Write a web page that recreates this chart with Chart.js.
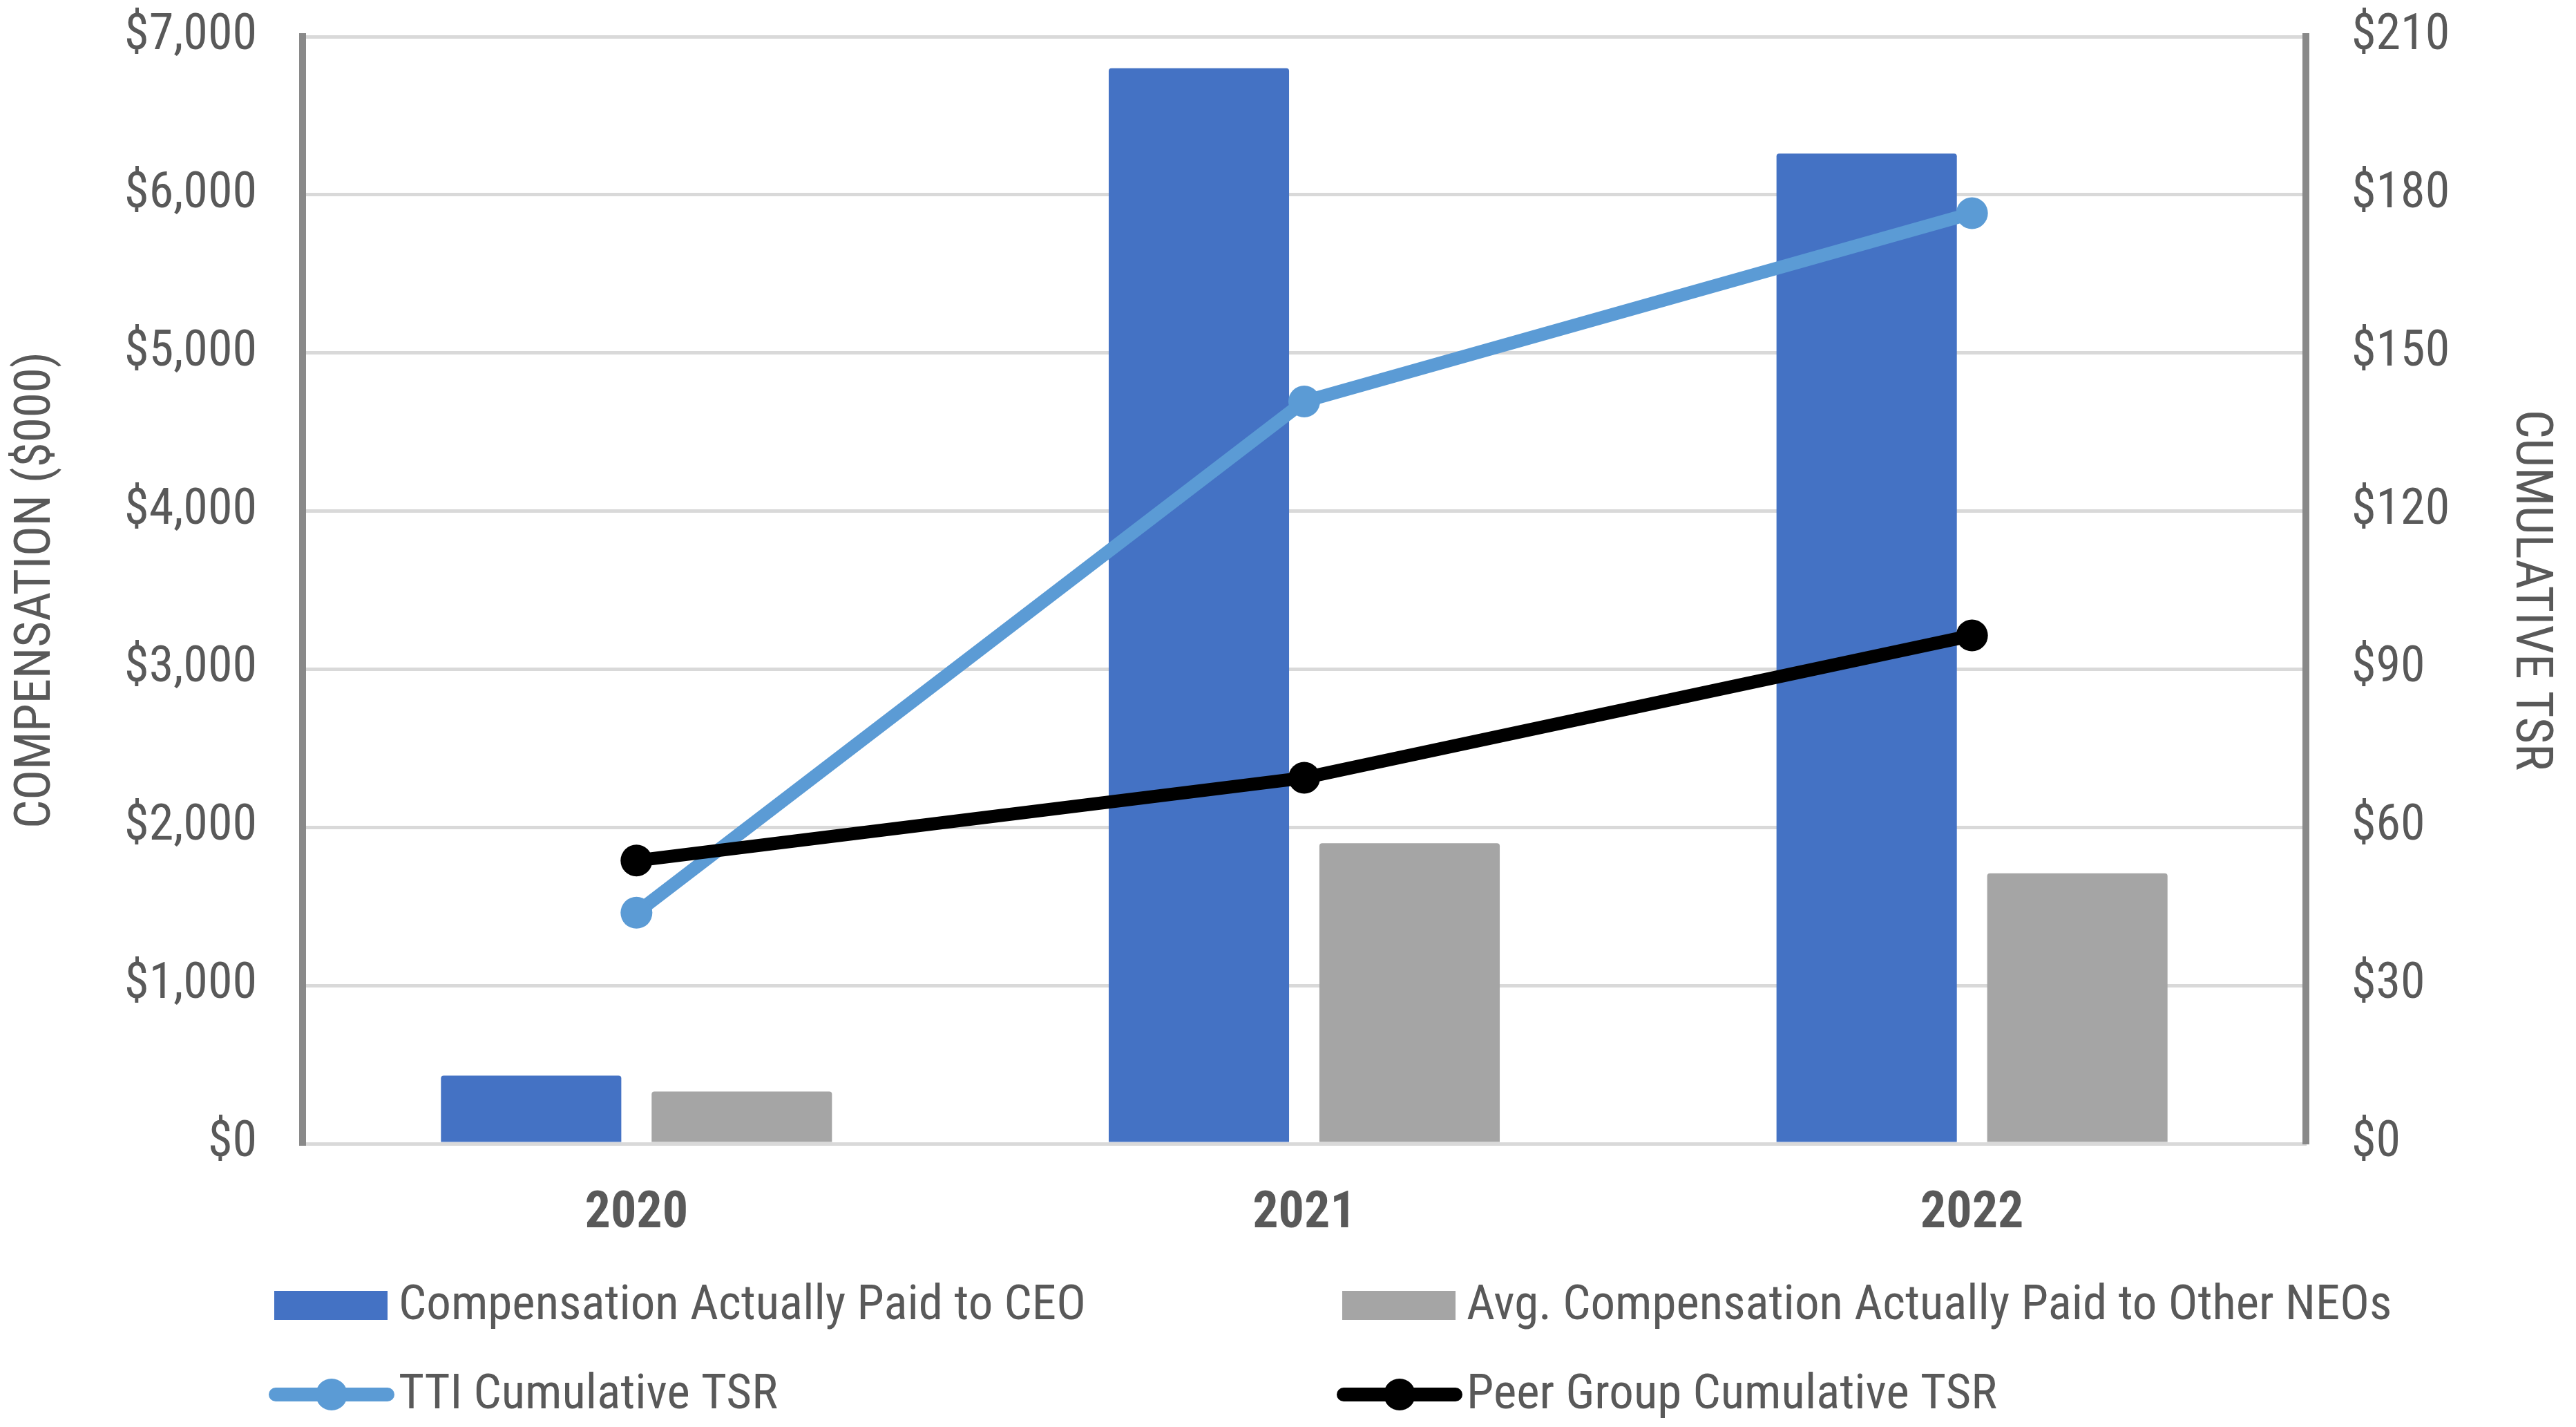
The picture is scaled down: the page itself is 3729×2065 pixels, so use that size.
<!DOCTYPE html>
<html>
<head>
<meta charset="utf-8">
<script src="https://cdn.jsdelivr.net/npm/chart.js@4/dist/chart.umd.min.js"></script>
<style>
html,body{margin:0;padding:0;background:#fff;}
#wrap{width:3729px;height:2065px;position:relative;}
</style>
</head>
<body>
<div id="wrap"><canvas id="c" width="3729" height="2065"></canvas></div>
<script>
// ---- data ----
const years = ['2020', '2021', '2022'];
const ceoComp = [430, 6800, 6260];        // $000
const neoComp = [330, 1900, 1710];        // $000
const ttiTSR = [43.8, 140.8, 176.5];      // $
const peerTSR = [53.7, 69.4, 96.4];       // $
const leftTicks = [0, 1000, 2000, 3000, 4000, 5000, 6000, 7000];
const rightTicks = [0, 30, 60, 90, 120, 150, 180, 210];
const seriesNames = [
  'Compensation Actually Paid to CEO',
  'Avg. Compensation Actually Paid to Other NEOs',
  'TTI Cumulative TSR',
  'Peer Group Cumulative TSR'
];

const FONT = "'Roboto Condensed','Liberation Sans Narrow','DejaVu Sans Condensed',sans-serif";
const TXT = '#595959';
Chart.defaults.font.family = FONT;

const legendPlugin = {
  id: 'customLegend',
  afterDraw(chart) {
    const ctx = chart.ctx;
    const cols = [397, 1943];
    const rows = [1889, 2018];
    chart.data.datasets.forEach((d, i) => {
      const x = cols[i % 2];
      const y = rows[Math.floor(i / 2)];
      ctx.save();
      if (d.type === 'line') {
        ctx.strokeStyle = d.borderColor;
        ctx.lineWidth = 20;
        ctx.lineCap = 'round';
        ctx.beginPath();
        ctx.moveTo(x + 2, y);
        ctx.lineTo(x + 164, y);
        ctx.stroke();
        ctx.fillStyle = d.borderColor;
        ctx.beginPath();
        ctx.arc(x + 83, y, 23, 0, Math.PI * 2);
        ctx.fill();
      } else {
        ctx.fillStyle = d.backgroundColor;
        ctx.fillRect(x, y - 21, 164, 42);
      }
      ctx.fillStyle = TXT;
      ctx.font = '71px ' + FONT;
      ctx.textBaseline = 'middle';
      ctx.textAlign = 'left';
      ctx.fillText(d.label, x + 180, y + 2);
      ctx.restore();
    });
  }
};

const money = v => '$' + Number(v).toLocaleString('en-US');

new Chart(document.getElementById('c'), {
  data: {
    labels: years,
    datasets: [
      {
        type: 'bar', label: seriesNames[0], data: ceoComp, yAxisID: 'y',
        backgroundColor: '#4472C4', borderRadius: 4, order: 2,
        categoryPercentage: 0.631, barPercentage: 0.856
      },
      {
        type: 'bar', label: seriesNames[1], data: neoComp, yAxisID: 'y',
        backgroundColor: '#A5A5A5', borderRadius: 4, order: 2,
        categoryPercentage: 0.631, barPercentage: 0.856
      },
      {
        type: 'line', label: seriesNames[2], data: ttiTSR, yAxisID: 'y1',
        borderColor: '#5B9BD5', backgroundColor: '#5B9BD5', borderWidth: 19,
        pointRadius: 23, pointHoverRadius: 23, pointBorderWidth: 0,
        pointBackgroundColor: '#5B9BD5', tension: 0, order: 1
      },
      {
        type: 'line', label: seriesNames[3], data: peerTSR, yAxisID: 'y1',
        borderColor: '#000000', backgroundColor: '#000000', borderWidth: 19,
        pointRadius: 23, pointHoverRadius: 23, pointBorderWidth: 0,
        pointBackgroundColor: '#000000', tension: 0, order: 0
      }
    ]
  },
  options: {
    responsive: false,
    animation: false,
    devicePixelRatio: 1,
    layout: { padding: { top: 53, bottom: 260, left: 0, right: 0 } },
    plugins: {
      legend: { display: false },
      tooltip: { enabled: false }
    },
    scales: {
      x: {
        grid: { display: false, drawTicks: false },
        border: { color: '#d9d9d9', width: 5 },
        ticks: { font: { size: 74, weight: 'bold' }, color: TXT, padding: 58 },
        afterFit(s) { s.height = 150; s.paddingLeft = 0; s.paddingRight = 0; }
      },
      y: {
        position: 'left',
        min: leftTicks[0], max: leftTicks[leftTicks.length - 1],
        afterBuildTicks(s) { s.ticks = leftTicks.map(v => ({ value: v })); },
        ticks: { callback: money, font: { size: 72 }, color: TXT, padding: 66 },
        grid: { color: '#d9d9d9', lineWidth: 5, drawTicks: false },
        border: { color: '#898989', width: 10 },
        title: { display: true, text: 'COMPENSATION ($000)', font: { size: 73 }, color: TXT, padding: { top: 10, bottom: 0 } },
        afterFit(s) { s.width = 438; s.paddingTop = 0; s.paddingBottom = 0; }
      },
      y1: {
        position: 'right',
        min: rightTicks[0], max: rightTicks[rightTicks.length - 1],
        afterBuildTicks(s) { s.ticks = rightTicks.map(v => ({ value: v })); },
        ticks: { callback: money, font: { size: 72 }, color: TXT, padding: 66 },
        grid: { display: false, drawTicks: false },
        border: { color: '#898989', width: 10 },
        title: { display: true, text: 'CUMULATIVE TSR', font: { size: 74 }, color: TXT, padding: { top: 23, bottom: 0 } },
        afterFit(s) { s.width = 391; s.paddingTop = 0; s.paddingBottom = 0; }
      }
    }
  },
  plugins: [legendPlugin]
});
</script>
</body>
</html>
